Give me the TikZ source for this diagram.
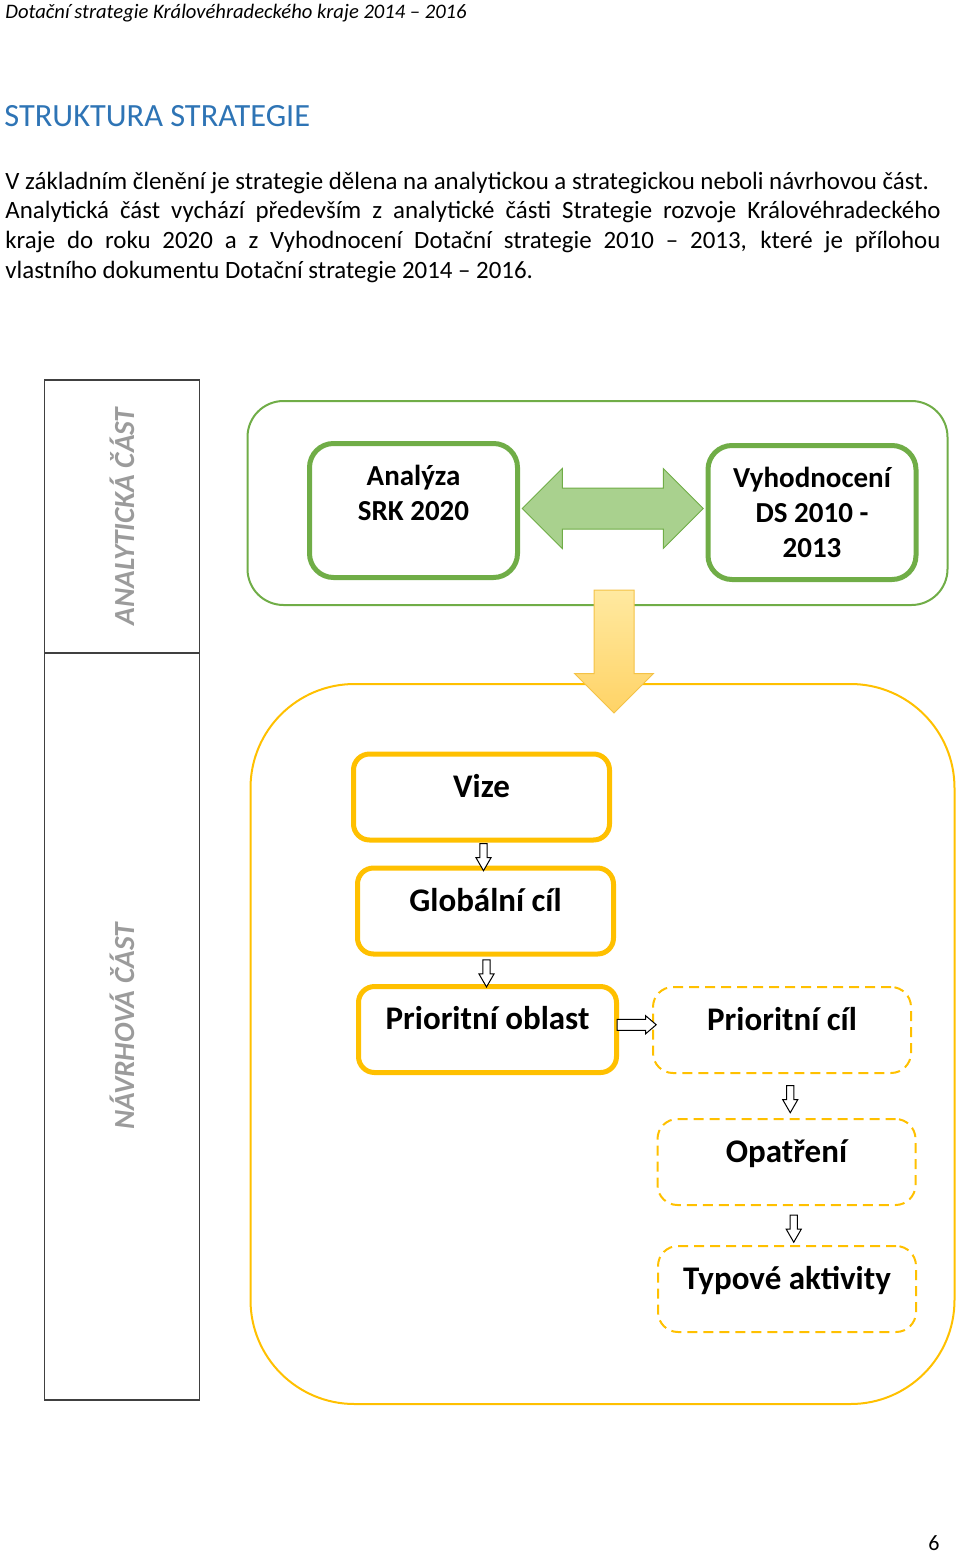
\documentclass[tikz,border=0pt]{standalone}
\usepackage{fontspec}
\setmainfont{Carlito}
\usetikzlibrary{shapes.arrows,calc}

\definecolor{zelena}{RGB}{112,173,71}
\definecolor{zelenasv}{RGB}{169,209,142}
\definecolor{zluta}{RGB}{255,192,0}
\definecolor{zlutasv}{RGB}{255,233,160}
\definecolor{zlutatm}{RGB}{255,211,102}
\definecolor{zlutaokraj}{RGB}{244,194,70}
\definecolor{modra}{RGB}{46,116,181}
\definecolor{seda}{RGB}{155,155,155}
\definecolor{tmseda}{RGB}{64,64,64}

\tikzset{
  greenbox/.style={draw=zelena, line width=2.5pt, rounded corners=12pt,
    minimum width=104pt, minimum height=67pt, align=center,
    font=\fontsize{14.5}{17.5}\selectfont\bfseries},
  yellowbox/.style={draw=zluta, line width=2.5pt, rounded corners=8pt,
    minimum width=128pt, minimum height=43pt, text height=8pt, text depth=8pt,
    font=\fontsize{16.5}{19}\selectfont\bfseries},
  dashbox/.style={draw=zluta, line width=1pt, dash pattern=on 5pt off 3pt,
    rounded corners=10pt, minimum width=129pt, minimum height=43pt,
    text height=8pt, text depth=8pt, font=\fontsize{16.5}{19}\selectfont\bfseries},
  sidecol/.style={draw=tmseda, line width=0.75pt, minimum width=77.5pt, inner sep=0pt},
  sidelabel/.style={rotate=90, text=seda, font=\fontsize{14.6}{17}\selectfont\bfseries\itshape},
  hollow/.style={shape=single arrow, draw, fill=white, line width=0.5pt,
    inner xsep=0pt, inner ysep=1.6pt, minimum width=7pt,
    single arrow head extend=1.9pt, single arrow tip angle=60, minimum height=13.5pt},
}

\begin{document}
\begin{tikzpicture}[x=0.5pt, y=-0.5pt]
  \useasboundingbox (0,0) rectangle (960,1553);

  \node[anchor=base west, inner sep=0pt, font=\fontsize{10.3}{12}\selectfont\itshape] (zahlavi)
    at (5,18) {Dotační strategie Královéhradeckého kraje 2014 – 2016};
  \node[anchor=base west, inner sep=0pt, text=modra, font=\fontsize{16.2}{19}\selectfont] (nadpis)
    at (4,126) {STRUKTURA STRATEGIE};
  \node[anchor=base west, inner sep=0pt, text width=467.5pt, align=justify,
        font=\fontsize{12.45}{14.85}\selectfont] (odstavec) at (5,189)
    {\parindent=0pt\hyphenpenalty=10000
     V základním členění je strategie dělena na analytickou a strategickou neboli návrhovou část.\par
     Analytická část vychází především z~analytické části Strategie rozvoje Královéhradeckého\linebreak
     kraje do roku 2020 a z~Vyhodnocení Dotační strategie 2010 – 2013, které je přílohou\linebreak
     vlastního dokumentu Dotační strategie 2014 – 2016.};

  % leva cast
  \node[sidecol, minimum height=136.5pt] (analcol) at (122,516.5) {};
  \node[sidecol, minimum height=373.5pt] (navrcol) at (122,1026.5) {};
  \node[sidelabel] (analtxt) at (analcol) {ANALYTICKÁ ČÁST};
  \node[sidelabel] (navrtxt) at (navrcol) {NÁVRHOVÁ ČÁST};

  % velke ramy
  \node[draw=zelena, line width=1pt, rounded corners=18pt,
        minimum width=350pt, minimum height=102pt] (anabox) at (597.5,503) {};
  \node[draw=zluta, line width=1pt, rounded corners=52pt,
        minimum width=352pt, minimum height=360pt] (navbox) at (602.5,1044) {};

  % analyticka cast
  \node[greenbox] (analyza) at (413.5,510.5) {Analýza\\SRK 2020\\\mbox{}};
  \node[greenbox] (vyhod) at (812,512.5) {Vyhodnocení\\DS 2010 -\\2013};
  \node[double arrow, draw=zelena, fill=zelenasv, line width=0.5pt,
        inner xsep=0pt, inner ysep=10pt,
        minimum height=90.5pt, minimum width=39.5pt, double arrow head extend=9.75pt]
    (obousm) at ([yshift=1.5pt]$(analyza.east)!.5!(vyhod.west)$) {};

  % navrhova cast
  \node[yellowbox] (vize) at (481.5,797) {Vize};
  \node[yellowbox] (globcil) at (485.5,911) {Globální cíl};
  \node[yellowbox, minimum width=129pt] (priobl) at (487.5,1029.5) {Prioritní oblast};
  \node[dashbox] (pricil) at (782,1030) {Prioritní cíl};
  \node[dashbox] (opatr) at (786.5,1162) {Opatření};
  \node[dashbox] (typakt) at (787,1289) {Typové aktivity};

  \node[hollow, rotate=-90] (s1) at ($(vize.south)!.5!(globcil.north)$) {};
  \node[hollow, rotate=-90] (s2) at ($(globcil.south)!.5!(priobl.north)$) {};
  \node[hollow, inner ysep=2.5pt, minimum height=19.5pt, minimum width=8.5pt,
        single arrow head extend=1.75pt, single arrow tip angle=81]
    (s3) at ([xshift=-1pt,yshift=2.5pt]$(priobl.east)!.5!(pricil.west)$) {};
  \node[hollow, rotate=-90] (s4) at ([xshift=3pt]$(pricil.south)!.5!(opatr.north)$) {};
  \node[hollow, rotate=-90] (s5) at ([xshift=3.5pt]$(opatr.south)!.5!(typakt.north)$) {};

  % prechod mezi castmi
  \node[single arrow, rotate=-90, draw=zlutaokraj, line width=0.5pt,
        inner xsep=0pt, inner ysep=9.75pt,
        top color=zlutasv, bottom color=zlutatm,
        minimum height=61.5pt, minimum width=39pt, single arrow head extend=9.75pt]
    (dolu) at ([xshift=7pt,yshift=1.5pt]$(anabox.south)!.5!(navbox.north)$) {};

  \node[anchor=base east, inner sep=0pt, font=\fontsize{11}{13}\selectfont] (strana)
    at (940,1550) {6};
\end{tikzpicture}
\end{document}
